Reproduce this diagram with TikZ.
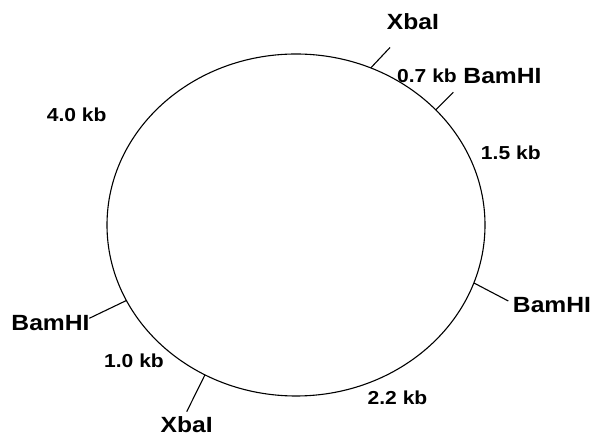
\documentclass[tikz,border=0pt]{standalone}
\usepackage{fontspec}
\usetikzlibrary{calc}
\setmainfont{Liberation Sans}
\newfontfamily\lblfont[FakeStretch=1.12]{Liberation Sans}
\begin{document}
\begin{tikzpicture}[x=1pt,y=1pt,
  site/.style={font=\lblfont\bfseries\fontsize{22}{24}\selectfont, inner sep=0pt},
  dist/.style={font=\lblfont\bfseries\fontsize{18.8}{21}\selectfont, inner sep=0pt},
  tick/.style={line width=1.1pt},
  plasmid/.style={line width=1.1pt}]
\useasboundingbox (0,0) rectangle (595,436);
\coordinate (c) at (296,211);
\draw[plasmid] (c) ellipse [x radius=189, y radius=171];
% tick inner points on the ellipse
\coordinate (xa) at ($(c)+(66.7:189 and 171)$);
\coordinate (ba) at ($(c)+(42.3:189 and 171)$);
\coordinate (bb) at ($(c)+(-19.8:189 and 171)$);
\coordinate (bc) at ($(c)+(206.2:189 and 171)$);
\coordinate (xb) at ($(c)+(241.2:189 and 171)$);
% tick outer points
\coordinate (xa2) at (390,388.5);
\coordinate (ba2) at (453.3,343.7);
\coordinate (bb2) at (508.3,135);
\coordinate (bc2) at (89.3,117.7);
\coordinate (xb2) at (186.7,24.3);
\draw[tick] (xa) -- (xa2);
\draw[tick] (ba) -- (ba2);
\draw[tick] (bb) -- (bb2);
\draw[tick] (bc) -- (bc2);
\draw[tick] (xb) -- (xb2);
% labels
\node[site] (lxa) at (413,414) {XbaI};
\node[site] (lba) at (502.5,360) {BamHI};
\node[site] (lbb) at (552,131) {BamHI};
\node[site] (lbc) at (50.5,113) {BamHI};
\node[site] (lxb) at (186.7,11) {XbaI};
\node[dist] (d07) at (427,360) {0.7 kb};
\node[dist] (d15) at (510.8,283.7) {1.5 kb};
\node[dist] (d22) at (397.5,38) {2.2 kb};
\node[dist] (d10) at (134,75) {1.0 kb};
\node[dist] (d40) at (76.7,321) {4.0 kb};
\end{tikzpicture}
\end{document}
